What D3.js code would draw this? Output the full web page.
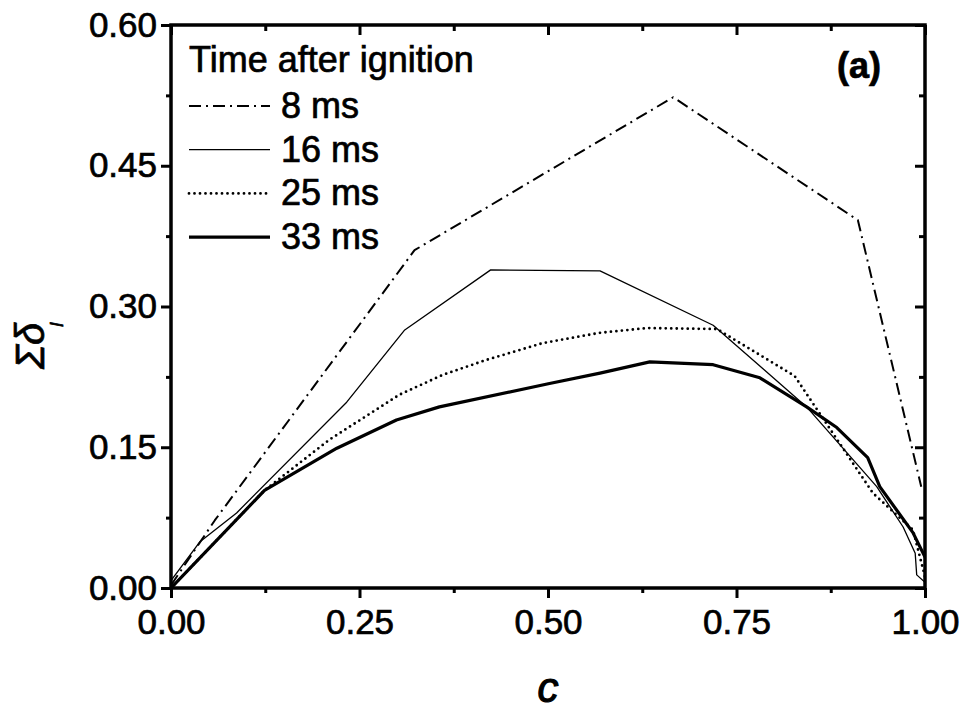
<!DOCTYPE html>
<html>
<head>
<meta charset="utf-8">
<script src="https://cdn.jsdelivr.net/npm/d3@7"></script>
<style>
  body { margin: 0; background: #fff; }
  text { font-family: "Liberation Sans", Arial, sans-serif; fill: #000; stroke: #000; stroke-width: 0.7px; }
</style>
</head>
<body>
<script>
// values: [c, sum delta_l]
var ms8  = [[0, 0.003], [0.058, 0.072], [0.323, 0.360], [0.666, 0.523], [0.911, 0.392], [0.995, 0.108]];
var ms16 = [[0, 0.008], [0.038, 0.049], [0.087, 0.080], [0.233, 0.198], [0.310, 0.275], [0.424, 0.339],
            [0.569, 0.338], [0.719, 0.280], [0.843, 0.193], [0.936, 0.108], [0.971, 0.065],
            [0.987, 0.037], [0.989, 0.014], [1.0, 0.006]];
var ms25 = [[0, 0], [0.124, 0.104], [0.21, 0.158], [0.303, 0.206], [0.36, 0.227], [0.418, 0.243],
            [0.493, 0.261], [0.569, 0.272], [0.631, 0.277], [0.724, 0.276], [0.827, 0.226],
            [0.931, 0.101], [0.984, 0.062], [1.0, 0.012]];
var ms33 = [[0, 0], [0.124, 0.104], [0.22, 0.149], [0.299, 0.179], [0.356, 0.193], [0.502, 0.218],
            [0.569, 0.229], [0.635, 0.241], [0.719, 0.238], [0.781, 0.224], [0.843, 0.193],
            [0.883, 0.171], [0.924, 0.139], [0.940, 0.108], [0.984, 0.059], [1.0, 0.033]];

var seriesNames = ["8 ms", "16 ms", "25 ms", "33 ms"];
var xTicks = [0, 0.25, 0.5, 0.75, 1.0];
var yTicks = [0, 0.15, 0.30, 0.45, 0.60];

var series = [
  {name: seriesNames[0], data: ms8,  width: 2,   dash: "12,5,2,5", cap: "butt"},
  {name: seriesNames[1], data: ms16, width: 1.3, dash: null,       cap: "butt"},
  {name: seriesNames[2], data: ms25, width: 2.8, dash: "0,5.5",    cap: "round"},
  {name: seriesNames[3], data: ms33, width: 3.2, dash: null,       cap: "butt"}
];

var W = 967, H = 713;
var margin = {left: 171, right: 42, top: 25, bottom: 125};

var svg = d3.select("body").append("svg")
    .attr("width", W)
    .attr("height", H);

var x = d3.scaleLinear().domain([0, 1]).range([margin.left, W - margin.right]);
var y = d3.scaleLinear().domain([0, 0.6]).range([H - margin.bottom, margin.top]);

var minorX = d3.range(0, 4).map(i => 0.125 + i * 0.25);
var minorY = d3.range(0, 4).map(i => 0.075 + i * 0.15);

var line = d3.line().x(d => x(d[0])).y(d => y(d[1]));

// curves, clipped to the frame
svg.append("clipPath").attr("id", "clip")
  .append("rect")
    .attr("x", x(0)).attr("y", y(0.6))
    .attr("width", x(1) - x(0)).attr("height", y(0) - y(0.6));

svg.append("g").attr("clip-path", "url(#clip)")
  .selectAll("path")
    .data(series)
  .enter().append("path")
    .attr("d", d => line(d.data))
    .attr("fill", "none")
    .attr("stroke", "#000")
    .attr("stroke-width", d => d.width)
    .attr("stroke-dasharray", d => d.dash)
    .attr("stroke-linecap", d => d.cap)
    .attr("stroke-linejoin", "round");

// axes
function styleAxis(g) {
  g.select(".domain").remove();
  g.selectAll(".tick line").attr("stroke", "#000").attr("stroke-width", 3);
  g.selectAll(".tick text").style("font-size", "35px");
}

svg.append("g")
    .attr("transform", "translate(0," + y(0) + ")")
    .call(d3.axisBottom(x).tickValues(xTicks).tickFormat(d3.format(".2f")).tickSize(10).tickPadding(11))
    .call(styleAxis);
svg.append("g")
    .attr("transform", "translate(0," + y(0) + ")")
    .call(d3.axisBottom(x).tickValues(minorX).tickFormat("").tickSize(5))
    .call(styleAxis);

svg.append("g")
    .attr("transform", "translate(" + x(0) + ",0)")
    .call(d3.axisLeft(y).tickValues(yTicks).tickFormat(d3.format(".2f")).tickSize(10).tickPadding(4))
    .call(styleAxis);
svg.append("g")
    .attr("transform", "translate(" + x(0) + ",0)")
    .call(d3.axisLeft(y).tickValues(minorY).tickFormat("").tickSize(5))
    .call(styleAxis);

// top and right: ticks pointing inward
svg.append("g")
    .attr("transform", "translate(0," + y(0.6) + ")")
    .call(d3.axisBottom(x).tickValues(xTicks).tickFormat("").tickSize(10))
    .call(styleAxis);
svg.append("g")
    .attr("transform", "translate(0," + y(0.6) + ")")
    .call(d3.axisBottom(x).tickValues(minorX).tickFormat("").tickSize(6))
    .call(styleAxis);
svg.append("g")
    .attr("transform", "translate(" + x(1) + ",0)")
    .call(d3.axisLeft(y).tickValues(yTicks).tickFormat("").tickSize(10))
    .call(styleAxis);
svg.append("g")
    .attr("transform", "translate(" + x(1) + ",0)")
    .call(d3.axisLeft(y).tickValues(minorY).tickFormat("").tickSize(6))
    .call(styleAxis);

// frame
svg.append("rect")
    .attr("x", x(0)).attr("y", y(0.6))
    .attr("width", x(1) - x(0)).attr("height", y(0) - y(0.6))
    .attr("fill", "none")
    .attr("stroke", "#000")
    .attr("stroke-width", 3.5);

// axis titles
svg.append("text")
    .attr("x", (x(0) + x(1)) / 2)
    .attr("y", 702)
    .attr("text-anchor", "middle")
    .style("font-size", "42px")
    .style("font-style", "italic")
    .style("stroke-width", "1.2px")
    .text("c");

var yt = svg.append("text")
    .attr("transform", "translate(44,369) rotate(-90)")
    .attr("text-anchor", "start")
    .style("font-size", "40px")
    .style("font-style", "italic");
yt.append("tspan").text("Σδ");
yt.append("tspan").attr("dx", -4).attr("dy", 19).style("font-size", "18px").text("l");

// panel label
svg.append("text")
    .attr("x", 881)
    .attr("y", 78)
    .attr("text-anchor", "end")
    .style("font-size", "36px")
    .style("font-weight", "bold")
    .text("(a)");

// legend
var legend = svg.append("g");
legend.append("text")
    .attr("x", 189)
    .attr("y", 72)
    .style("font-size", "36px")
    .text("Time after ignition");

var rows = legend.selectAll("g.row")
    .data(series)
  .enter().append("g")
    .attr("class", "row")
    .attr("transform", (d, i) => "translate(0," + (106 + i * 43.7) + ")");

rows.append("line")
    .attr("x1", 189).attr("x2", 270)
    .attr("y1", 0).attr("y2", 0)
    .attr("stroke", "#000")
    .attr("stroke-width", d => d.width)
    .attr("stroke-dasharray", d => d.dash)
    .attr("stroke-linecap", d => d.cap);

rows.append("text")
    .attr("x", 281)
    .attr("y", 12)
    .style("font-size", "36px")
    .text(d => d.name);
</script>
</body>
</html>
